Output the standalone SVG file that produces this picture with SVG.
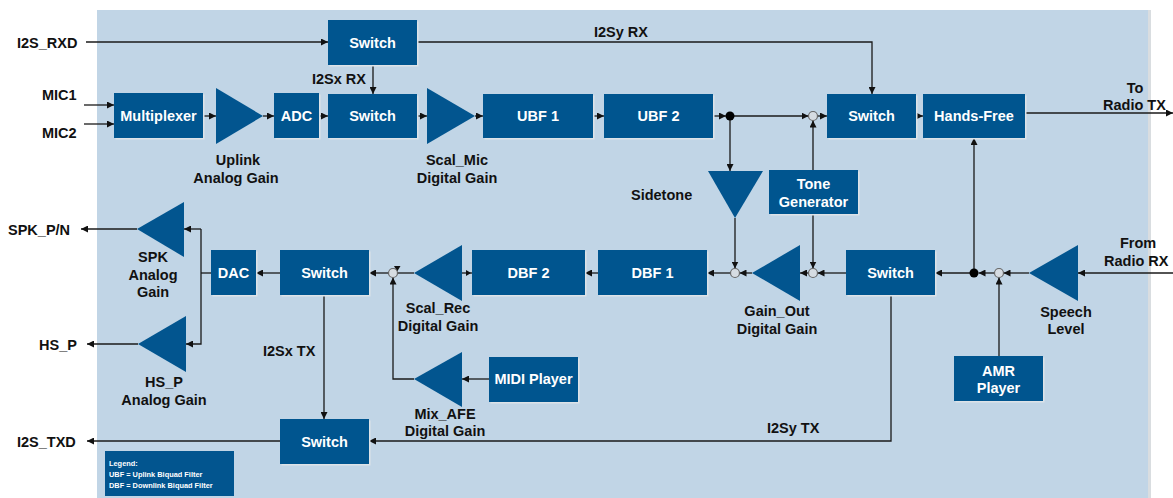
<svg xmlns="http://www.w3.org/2000/svg" width="1173" height="498" viewBox="0 0 1173 498">
<defs>
<marker id="arr" markerUnits="userSpaceOnUse" markerWidth="7" markerHeight="7" refX="7" refY="3.5" orient="auto">
<path d="M0,0 L7,3.5 L0,7 z" fill="#111"/>
</marker>
<filter id="sh" x="-5%" y="-5%" width="115%" height="120%">
<feDropShadow dx="1.5" dy="1.5" stdDeviation="0.4" flood-color="#dde3e8" flood-opacity="1"/>
</filter>
</defs>
<style>
.blk{fill:#02558f;filter:url(#sh)}
.tri{fill:#02558f}
.bt{font-family:"Liberation Sans",Arial,sans-serif;font-weight:bold;font-size:14.5px;fill:#fff;text-anchor:middle}
.lt{font-family:"Liberation Sans",Arial,sans-serif;font-weight:bold;font-size:14.5px;fill:#111}
.c{text-anchor:middle}
.ln{stroke:#1a1a1a;stroke-width:1.3;fill:none}
.a{marker-end:url(#arr)}
.oc{fill:#d6dce2;stroke:#666;stroke-width:1.2}
.dc{fill:#000}
.lg{font-family:"Liberation Sans",Arial,sans-serif;font-weight:bold;font-size:7.4px;fill:#fff}
</style>
<rect x="1148" y="10" width="3" height="488" fill="#d9dde0"/>
<rect x="97" y="10" width="1051" height="488" fill="#c1d5e6"/>

<g id="connectors">
<path class="ln a" d="M86,42 H328"/>
<path class="ln a" d="M417,42 H872 V94"/>
<path class="ln a" d="M373,65 V94"/>
<path class="ln a" d="M84,105 H114"/>
<path class="ln a" d="M84,124 H114"/>
<path class="ln a" d="M203,116 H216"/>
<path class="ln a" d="M263,116 H274"/>
<path class="ln a" d="M319,116 H328"/>
<path class="ln a" d="M417,116 H427"/>
<path class="ln a" d="M475,116 H483"/>
<path class="ln a" d="M593,116 H604"/>
<path class="ln a" d="M713,116 H726"/>
<path class="ln a" d="M730,116 H808.5"/>
<path class="ln a" d="M817.5,116 H827"/>
<path class="ln a" d="M916,116 H923"/>
<path class="ln a" d="M1018,113 H1173"/>
<path class="ln a" d="M730,116 V171"/>
<path class="ln a" d="M735,218 V268.5"/>
<path class="ln a" d="M813,170 V120.5"/>
<path class="ln a" d="M813,214 V268.5"/>
<path class="ln a" d="M1173,273 H1078"/>
<path class="ln a" d="M1029,273 H1003.5"/>
<path class="ln a" d="M994.5,273 H978.5"/>
<path class="ln a" d="M974,273 H935"/>
<path class="ln a" d="M974,273 V138"/>
<path class="ln a" d="M999,356 V277.5"/>
<path class="ln a" d="M846,273 H817.5"/>
<path class="ln a" d="M808.5,273 H800"/>
<path class="ln a" d="M752,273 H739.5"/>
<path class="ln a" d="M730.5,273 H707"/>
<path class="ln a" d="M598,273 H585"/>
<path class="ln" d="M472,273 H462"/>
<path d="M466,270 L471,273 L466,276 z" fill="#111"/>
<path class="ln" d="M414,273 H397.5"/>
<path d="M394,266 H400.5 L397.2,271.5 z" fill="#111"/>
<path class="ln a" d="M388.5,273 H369"/>
<path class="ln a" d="M280,273 H256"/>
<path class="ln" d="M211,273 H201"/>
<path class="ln a" d="M201,229 V344 H186"/>
<path class="ln a" d="M201,229 H184"/>
<path class="ln a" d="M137,229 H81"/>
<path class="ln a" d="M138,344 H87"/>
<path class="ln a" d="M324,295 V419"/>
<path class="ln a" d="M280,441 H87"/>
<path class="ln a" d="M891,295 V441 H369"/>
<path class="ln a" d="M489,379 H462"/>
<path class="ln a" d="M414,379 H393 V277.5"/>
</g>

<g id="jn-ubf2"><circle class="dc" cx="730" cy="116" r="4.5"/></g>
<g id="jn-sum-tx"><circle class="oc" cx="813" cy="116" r="4.5"/></g>
<g id="jn-sum-side"><circle class="oc" cx="735" cy="273" r="4.5"/></g>
<g id="jn-sum-tone"><circle class="oc" cx="813" cy="273" r="4.5"/></g>
<g id="jn-rx"><circle class="dc" cx="974" cy="273" r="4.5"/></g>
<g id="jn-sum-amr"><circle class="oc" cx="999" cy="273" r="4.5"/></g>
<g id="jn-sum-midi"><circle class="oc" cx="393" cy="273" r="4.5"/></g>

<g id="switch-top"><rect class="blk" x="328" y="20" width="89" height="45"/><text class="bt" x="372.5" y="48">Switch</text></g>
<g id="multiplexer"><rect class="blk" x="114" y="93" width="89" height="45"/><text class="bt" x="158.5" y="121">Multiplexer</text></g>
<g id="uplink-gain"><polygon class="tri" points="216,88 263,116 216,144"/><text class="lt c" x="238" y="165">Uplink</text><text class="lt c" x="236" y="183">Analog Gain</text></g>
<g id="adc"><rect class="blk" x="274" y="93" width="45" height="45"/><text class="bt" x="296.5" y="121">ADC</text></g>
<g id="switch-ul"><rect class="blk" x="328" y="94" width="89" height="44"/><text class="bt" x="372.5" y="121">Switch</text></g>
<g id="scal-mic"><polygon class="tri" points="427,88 475,116 427,144"/><text class="lt c" x="457" y="165">Scal_Mic</text><text class="lt c" x="457" y="183">Digital Gain</text></g>
<g id="ubf1"><rect class="blk" x="483" y="94" width="110" height="44"/><text class="bt" x="538" y="121">UBF 1</text></g>
<g id="ubf2"><rect class="blk" x="604" y="94" width="109" height="44"/><text class="bt" x="658.5" y="121">UBF 2</text></g>
<g id="switch-hf"><rect class="blk" x="827" y="94" width="89" height="44"/><text class="bt" x="871.5" y="121">Switch</text></g>
<g id="hands-free"><rect class="blk" x="923" y="94" width="102" height="44"/><text class="bt" x="974" y="121">Hands-Free</text></g>
<g id="sidetone"><polygon class="tri" points="708,171 763,171 735,218"/><text class="lt" x="631" y="200">Sidetone</text></g>
<g id="tone-gen"><rect class="blk" x="769" y="170" width="89" height="44"/><text class="bt" x="813.5" y="189">Tone</text><text class="bt" x="813.5" y="207">Generator</text></g>

<g id="spk-gain"><polygon class="tri" points="184,202 137,229 184,257"/><text class="lt c" x="153" y="262">SPK</text><text class="lt c" x="153" y="280">Analog</text><text class="lt c" x="153" y="297">Gain</text></g>
<g id="hsp-gain"><polygon class="tri" points="186,316 138,344 186,372"/><text class="lt c" x="164" y="387">HS_P</text><text class="lt c" x="164" y="405">Analog Gain</text></g>
<g id="dac"><rect class="blk" x="211" y="250" width="45" height="45"/><text class="bt" x="233.5" y="278">DAC</text></g>
<g id="switch-dl"><rect class="blk" x="280" y="250" width="89" height="45"/><text class="bt" x="324.5" y="278">Switch</text></g>
<g id="scal-rec"><polygon class="tri" points="462,245 414,273 462,301"/><text class="lt c" x="438" y="313">Scal_Rec</text><text class="lt c" x="438" y="331">Digital Gain</text></g>
<g id="dbf2"><rect class="blk" x="472" y="250" width="113" height="45"/><text class="bt" x="528.5" y="278">DBF 2</text></g>
<g id="dbf1"><rect class="blk" x="598" y="250" width="109" height="45"/><text class="bt" x="652.5" y="278">DBF 1</text></g>
<g id="gain-out"><polygon class="tri" points="800,245 752,273 800,301"/><text class="lt c" x="777" y="316">Gain_Out</text><text class="lt c" x="777" y="334">Digital Gain</text></g>
<g id="switch-rx"><rect class="blk" x="846" y="250" width="89" height="45"/><text class="bt" x="890.5" y="278">Switch</text></g>
<g id="speech-level"><polygon class="tri" points="1078,245 1029,273 1078,301"/><text class="lt c" x="1066" y="317">Speech</text><text class="lt c" x="1066" y="334">Level</text></g>
<g id="amr-player"><rect class="blk" x="954" y="356" width="89" height="45"/><text class="bt" x="998.5" y="376">AMR</text><text class="bt" x="998.5" y="393">Player</text></g>
<g id="mix-afe"><polygon class="tri" points="462,352 414,379 462,407"/><text class="lt c" x="445" y="419">Mix_AFE</text><text class="lt c" x="445" y="436">Digital Gain</text></g>
<g id="midi-player"><rect class="blk" x="489" y="357" width="89" height="45"/><text class="bt" x="533.5" y="384">MIDI Player</text></g>
<g id="switch-tx"><rect class="blk" x="280" y="419" width="89" height="45"/><text class="bt" x="324.5" y="447">Switch</text></g>

<g id="labels">
<text class="lt" x="17" y="48">I2S_RXD</text>
<text class="lt" x="42" y="100">MIC1</text>
<text class="lt" x="42" y="138">MIC2</text>
<text class="lt" x="312" y="84">I2Sx RX</text>
<text class="lt" x="594" y="37">I2Sy RX</text>
<text class="lt c" x="1135" y="93">To</text>
<text class="lt" x="1103" y="110">Radio TX</text>
<text class="lt c" x="1138" y="248">From</text>
<text class="lt" x="1104" y="266">Radio RX</text>
<text class="lt" x="8" y="235">SPK_P/N</text>
<text class="lt" x="39" y="350">HS_P</text>
<text class="lt" x="263" y="356">I2Sx TX</text>
<text class="lt" x="767" y="433">I2Sy TX</text>
<text class="lt" x="17" y="447">I2S_TXD</text>
</g>

<g id="legend"><rect x="105" y="451" width="129" height="45" fill="#02558f"/>
<text class="lg" x="109" y="466">Legend:</text>
<text class="lg" x="109" y="477">UBF = Uplink Biquad Filter</text>
<text class="lg" x="109" y="488">DBF = Downlink Biquad Filter</text></g>
</svg>
